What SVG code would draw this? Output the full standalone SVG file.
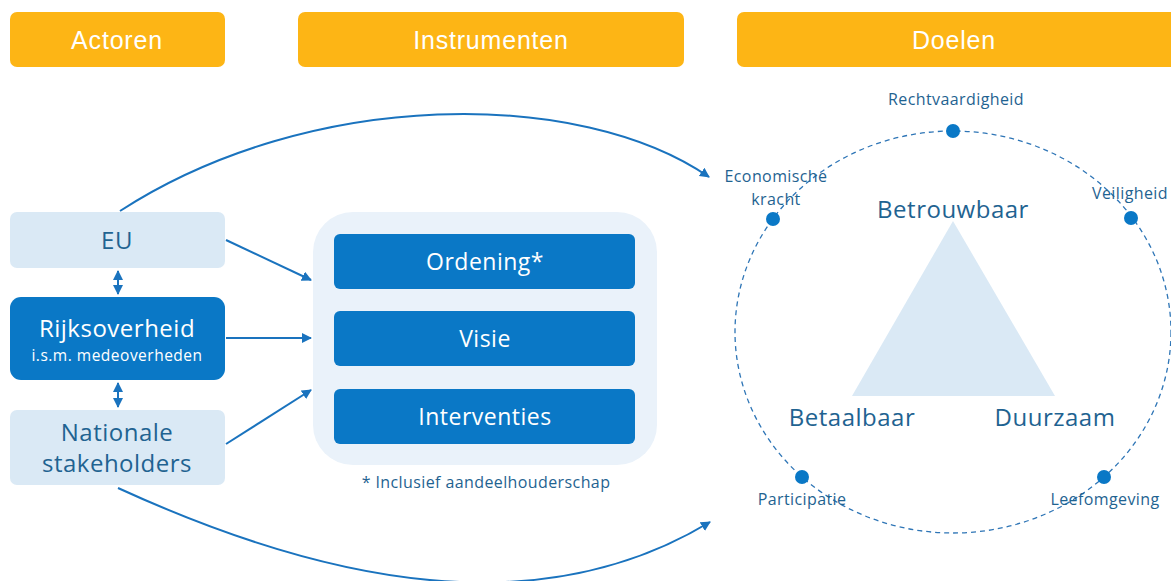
<svg xmlns="http://www.w3.org/2000/svg" width="1171" height="581" viewBox="0 0 1171 581">
<defs>
<marker id="ah" viewBox="0 0 10 10" refX="9" refY="5" markerWidth="5" markerHeight="5" orient="auto-start-reverse" markerUnits="strokeWidth">
<path d="M0,0 L10,5 L0,10 z" fill="#1A73BE"/>
</marker>
<style>
.hdr{fill:#FDB515}
.htxt{font-family:"Liberation Sans",Arial,sans-serif;font-size:25px;letter-spacing:0.8px;fill:#fff;text-anchor:middle}
.lb{fill:#DAE9F5}
.db{fill:#0A78C6}
.t{font-family:"Open Sans","Noto Sans",sans-serif;text-anchor:middle;letter-spacing:0.5px}
.dk{fill:#1F6391}
.wh{fill:#fff}
.con{stroke:#1A73BE;stroke-width:2;fill:none}
.dot{fill:#0A78C6}
.sm{font-size:16px;letter-spacing:0.4px}
</style>
</defs>
<rect width="1171" height="581" fill="#fff"/>
<g id="hdr-actoren"><rect class="hdr" x="10" y="12" width="215" height="55" rx="7"/><text class="htxt" x="117" y="49">Actoren</text></g>
<g id="hdr-instrumenten"><rect class="hdr" x="298" y="12" width="386" height="55" rx="7"/><text class="htxt" x="491" y="49">Instrumenten</text></g>
<g id="hdr-doelen"><rect class="hdr" x="737" y="12" width="440" height="55" rx="7"/><text class="htxt" x="954" y="49">Doelen</text></g>

<g id="eu"><rect class="lb" x="10" y="212" width="215" height="56" rx="7"/><text class="t dk" x="117" y="249" font-size="24">EU</text></g>
<g id="rijksoverheid"><rect class="db" x="10" y="297" width="215" height="83" rx="11"/><text class="t wh" x="117" y="337" font-size="24">Rijksoverheid</text><text class="t wh" x="117" y="361" font-size="15.5" letter-spacing="0.9">i.s.m. medeoverheden</text></g>
<g id="nationale"><rect class="lb" x="10" y="410" width="215" height="75" rx="7"/><text class="t dk" x="117" y="441" font-size="24">Nationale</text><text class="t dk" x="117" y="472" font-size="24">stakeholders</text></g>

<g id="instrumenten"><rect fill="#EAF2FA" x="313" y="212" width="344" height="253" rx="40"/></g>
<g id="ordening"><rect class="db" x="334" y="234" width="301" height="55" rx="6"/><text class="t wh" x="485" y="270" font-size="23">Ordening*</text></g>
<g id="visie"><rect class="db" x="334" y="311" width="301" height="55" rx="6"/><text class="t wh" x="485" y="347" font-size="23">Visie</text></g>
<g id="interventies"><rect class="db" x="334" y="389" width="301" height="55" rx="6"/><text class="t wh" x="485" y="425" font-size="23">Interventies</text></g>
<g id="footnote"><text class="t dk sm" x="486" y="488">* Inclusief aandeelhouderschap</text></g>

<g id="doelen">
<ellipse cx="953" cy="332" rx="218" ry="201" fill="none" stroke="#2E75B6" stroke-width="1.3" stroke-dasharray="5,4"/>
<polygon points="953,221 1055,396 852,396" fill="#DAE9F5"/>
<text class="t dk" x="953" y="218" font-size="24">Betrouwbaar</text>
<text class="t dk" x="852" y="426" font-size="24">Betaalbaar</text>
<text class="t dk" x="1055" y="426" font-size="24">Duurzaam</text>
<g id="rechtvaardigheid"><circle class="dot" cx="953" cy="131" r="7"/><text class="t dk sm" x="956" y="105">Rechtvaardigheid</text></g>
<g id="economische"><circle class="dot" cx="773" cy="219" r="7"/><text class="t dk sm" x="776" y="182">Economische</text><text class="t dk sm" x="776" y="205">kracht</text></g>
<g id="veiligheid"><circle class="dot" cx="1131" cy="218" r="7"/><text class="t dk sm" x="1130" y="199">Veiligheid</text></g>
<g id="participatie"><circle class="dot" cx="802" cy="477" r="7"/><text class="t dk sm" x="802" y="505">Participatie</text></g>
<g id="leefomgeving"><circle class="dot" cx="1104" cy="477" r="7"/><text class="t dk sm" x="1105" y="505">Leefomgeving</text></g>
</g>

<g id="connectors">
<line class="con" x1="118" y1="271" x2="118" y2="294" marker-start="url(#ah)" marker-end="url(#ah)"/>
<line class="con" x1="118" y1="383" x2="118" y2="407" marker-start="url(#ah)" marker-end="url(#ah)"/>
<line class="con" x1="226" y1="240" x2="311" y2="280" marker-end="url(#ah)"/>
<line class="con" x1="226" y1="338" x2="311" y2="338" marker-end="url(#ah)"/>
<line class="con" x1="226" y1="444" x2="311" y2="390" marker-end="url(#ah)"/>
<path class="con" d="M120,211 C310,88 580,88 709,177" marker-end="url(#ah)"/>
<path class="con" d="M118,488 C330,585 540,625 710,522" marker-end="url(#ah)"/>
</g>
</svg>
